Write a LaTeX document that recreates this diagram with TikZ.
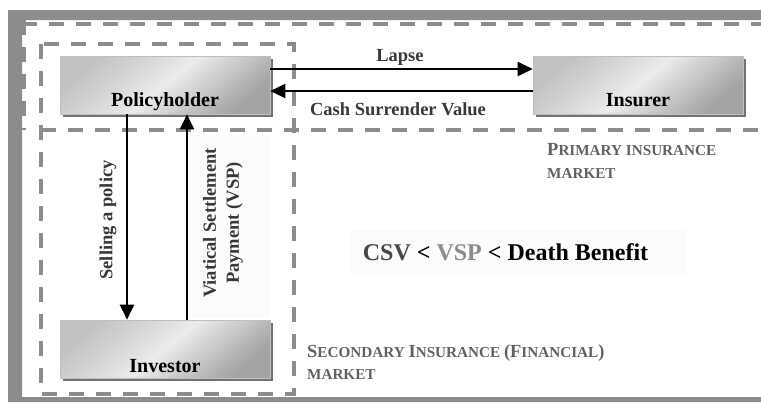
\documentclass[tikz,border=0pt]{standalone}
\usepackage{fontspec}
\setmainfont{Liberation Serif}
\usetikzlibrary{arrows.meta,shadows}
\newcommand\mysc[2]{{\fontsize{18.5}{20}\selectfont #1}{\fontsize{15.2}{17}\selectfont #2}}
\tikzset{
  box/.style={minimum width=210pt, minimum height=58pt, inner sep=0pt,
    draw=black!25, line width=0.6pt,
    top color=black!24, bottom color=black!36, middle color=black!8, shading angle=40,
    drop shadow={shadow xshift=2.5pt, shadow yshift=-2.5pt, fill=black!55, opacity=1}},
  boxtext/.style={font=\fontsize{20}{24}\selectfont\bfseries, anchor=base, inner sep=0pt},
  lbl/.style={font=\fontsize{18.5}{23}\selectfont\bfseries, text=black!78, inner sep=0pt},
  arr/.style={line width=2pt, -{Triangle[length=15pt,width=14pt]}},
  dsh/.style={line width=4pt, draw=black!45, dash pattern=on 15pt off 12pt},
  mkt/.style={text=black!62, anchor=base west, inner sep=0pt, font=\bfseries},
  faint/.style={fill=black!1.5, draw=none}
}
\begin{document}
\begin{tikzpicture}[x=1pt,y=-1pt]
\useasboundingbox (0,0) rectangle (761,402);
% outer gray frame
\fill[black!45, even odd rule] (8,10) rectangle (761,402) (22,20) rectangle (761,397);
% faint panels
\path[faint] (190,135) rectangle (270,318);
\path[faint] (350,230) rectangle (685,275);
% dashed market boundaries
\draw[dsh] (22,23.5) -- (761,23.5);
\draw[dsh] (24,20) -- (24,130);
\draw[dsh] (41,130) -- (761,130);
\draw[dsh] (41,44) rectangle (294,394);
% boxes
\node[box] (ph) at (165,85) {};
\node[box] (ins) at (638,85) {};
\node[box] (inv) at (165,349) {};
\node[boxtext] (phT) at ([yshift=8pt]ph.south) {Policyholder};
\node[boxtext] (insT) at ([yshift=8pt]ins.south) {Insurer};
\node[boxtext] (invT) at ([yshift=6pt]inv.south) {Investor};
% arrows
\draw[arr] ([yshift=16pt]ph.east) -- ([yshift=16pt]ins.west);
\draw[arr] ([yshift=-6pt]ins.west) -- ([yshift=-6pt]ph.east);
\draw[arr] ([xshift=-38pt]ph.south) -- ([xshift=-38pt]inv.north);
\draw[arr] ([xshift=22pt]inv.north) -- ([xshift=22pt]ph.south);
% labels
\node[lbl, anchor=base] (lapse) at (400,61) {Lapse};
\node[lbl, anchor=base] (csvl) at (398,115) {Cash Surrender Value};
\node[lbl, rotate=90] (sell) at (108,220) {Selling a policy};
\node[lbl, rotate=90, align=center] (vspl) at (223,223) {Viatical Settlement\\Payment (VSP)};
\node[font=\fontsize{24}{28}\selectfont\bfseries, anchor=base, inner sep=0pt] (eq) at (505.5,260)
  {\textcolor{black!72}{CSV} < \textcolor{black!45}{VSP} < Death Benefit};
\node[mkt] (prim1) at (547,155) {\mysc{P}{RIMARY INSURANCE}};
\node[mkt] (prim2) at (547,178) {\mysc{}{MARKET}};
\node[mkt] (sec1) at (307,357) {\mysc{S}{ECONDARY }\mysc{I}{NSURANCE }\mysc{(F}{INANCIAL}\mysc{)}{}};
\node[mkt] (sec2) at (307,379) {\mysc{}{MARKET}};
\end{tikzpicture}
\end{document}
